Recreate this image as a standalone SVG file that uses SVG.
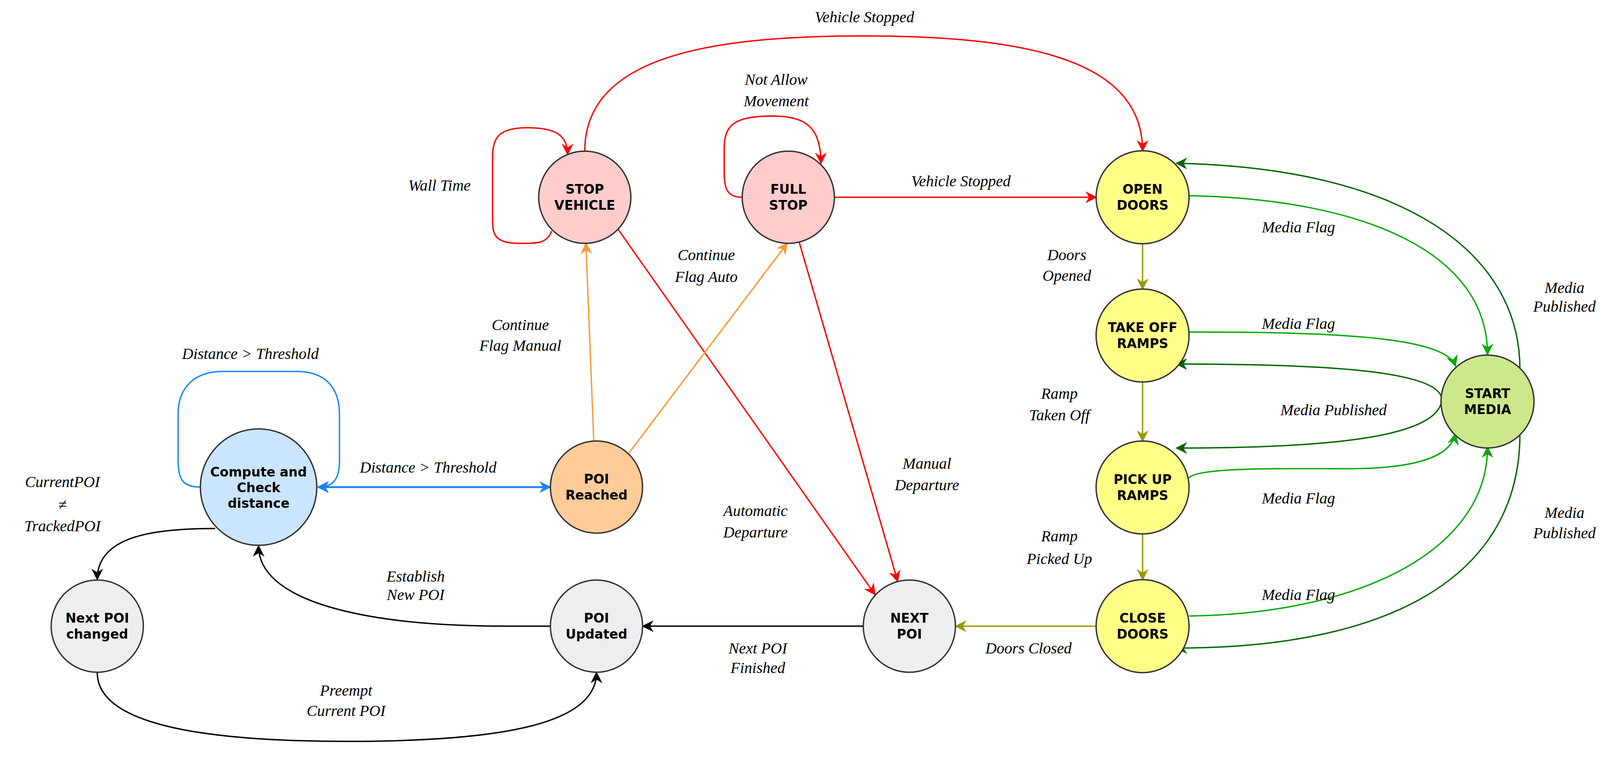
<svg xmlns="http://www.w3.org/2000/svg" width="4120" height="1938" viewBox="0 0 4120 1938">
<style>
.n{stroke:#333;stroke-width:3.5}
.t{font-family:"DejaVu Sans",Verdana,sans-serif;font-weight:bold;font-size:33px;text-anchor:middle;fill:#000}
.l{font-family:"Liberation Serif","Times New Roman",serif;font-style:italic;font-size:40px;text-anchor:middle;fill:#000}
.e{fill:none;stroke-width:3.5}
.r{stroke:#ff0000}.o{stroke:#ff9933}.b{stroke:#1a85ff;stroke-width:5}.k{stroke:#000}.y{stroke:#999900}.g{stroke:#00aa00}.d{stroke:#006600}
</style>
<defs>
<marker id="mr" viewBox="0 0 10 10" refX="9" refY="5" markerWidth="30" markerHeight="30" markerUnits="userSpaceOnUse" orient="auto-start-reverse"><path d="M0,0 L10,5 L0,10 L3,5 Z" fill="#ff0000"/></marker>
<marker id="mo" viewBox="0 0 10 10" refX="9" refY="5" markerWidth="30" markerHeight="30" markerUnits="userSpaceOnUse" orient="auto-start-reverse"><path d="M0,0 L10,5 L0,10 L3,5 Z" fill="#ff9933"/></marker>
<marker id="mb" viewBox="0 0 10 10" refX="9" refY="5" markerWidth="30" markerHeight="30" markerUnits="userSpaceOnUse" orient="auto-start-reverse"><path d="M0,0 L10,5 L0,10 L3,5 Z" fill="#1a85ff"/></marker>
<marker id="mk" viewBox="0 0 10 10" refX="9" refY="5" markerWidth="30" markerHeight="30" markerUnits="userSpaceOnUse" orient="auto-start-reverse"><path d="M0,0 L10,5 L0,10 L3,5 Z" fill="#000"/></marker>
<marker id="my" viewBox="0 0 10 10" refX="9" refY="5" markerWidth="30" markerHeight="30" markerUnits="userSpaceOnUse" orient="auto-start-reverse"><path d="M0,0 L10,5 L0,10 L3,5 Z" fill="#999900"/></marker>
<marker id="mg" viewBox="0 0 10 10" refX="9" refY="5" markerWidth="30" markerHeight="30" markerUnits="userSpaceOnUse" orient="auto-start-reverse"><path d="M0,0 L10,5 L0,10 L3,5 Z" fill="#00aa00"/></marker>
<marker id="md" viewBox="0 0 10 10" refX="9" refY="5" markerWidth="30" markerHeight="30" markerUnits="userSpaceOnUse" orient="auto-start-reverse"><path d="M0,0 L10,5 L0,10 L3,5 Z" fill="#006600"/></marker>
</defs>
<rect width="4120" height="1938" fill="#fff"/>
<g id="connectors">
<path class="e r" marker-end="url(#mr)" d="M1412,592 C1400,625 1370,623 1330,623 C1265,623 1261,600 1261,560 L1261,400 C1261,350 1280,327 1350,327 C1420,327 1453,345 1453,395"/>
<path class="e r" marker-end="url(#mr)" d="M1899,505 C1860,505 1854,480 1854,440 L1854,380 C1854,320 1880,297 1975,297 C2070,297 2100,330 2102,418"/>
<path class="e r" marker-end="url(#mr)" d="M1497,387 C1497,150 1800,92 2210,92 C2620,92 2925,150 2925,386"/>
<path class="e r" marker-end="url(#mr)" d="M2136,505 L2806,505"/>
<path class="e r" marker-end="url(#mr)" d="M1583,588 L2240,1522"/>
<path class="e r" marker-end="url(#mr)" d="M2046,620 L2298,1488"/>
<path class="e o" marker-end="url(#mo)" d="M1520,1129 L1500,623"/>
<path class="e o" marker-end="url(#mo)" d="M1610,1160 L2015,623"/>
<path class="e b" marker-start="url(#mb)" marker-end="url(#mb)" d="M814,1247 L1408,1247"/>
<path class="e b" style="stroke-width:3.5" marker-end="url(#mb)" d="M514,1247 C470,1247 456,1230 456,1180 L456,1060 C456,990 500,951 570,951 L760,951 C830,951 869,990 869,1060 L869,1180 C869,1230 850,1247 815,1247"/>
<path class="e k" marker-end="url(#mk)" d="M551,1353 C400,1353 249,1370 249,1483"/>
<path class="e k" marker-end="url(#mk)" d="M1409,1603 L1300,1603 C900,1603 662,1530 662,1398"/>
<path class="e k" marker-end="url(#mk)" d="M249,1722 C249,1850 500,1898 888,1898 C1300,1898 1527,1850 1527,1722"/>
<path class="e k" marker-end="url(#mk)" d="M2210,1603 L1646,1603"/>
<path class="e y" marker-end="url(#my)" d="M2806,1603 L2447,1603"/>
<path class="e y" marker-end="url(#my)" d="M2925,620 L2925,740"/>
<path class="e y" marker-end="url(#my)" d="M2925,978 L2925,1129"/>
<path class="e y" marker-end="url(#my)" d="M2925,1367 L2925,1484"/>
<path class="e g" marker-end="url(#mg)" d="M3044,501 C3500,510 3808,650 3808,907"/>
<path class="e d" marker-end="url(#md)" d="M3891,945 C3891,650 3600,430 3012,418"/>
<path class="e g" marker-end="url(#mg)" d="M3044,850 C3400,850 3700,860 3726,937"/>
<path class="e d" marker-end="url(#md)" d="M3690,1016 C3670,950 3400,932 3012,932"/>
<path class="e d" marker-end="url(#md)" d="M3690,1030 C3670,1120 3400,1147 3012,1147"/>
<path class="e g" marker-end="url(#mg)" d="M3044,1224 C3060,1195 3300,1200 3450,1200 C3650,1200 3715,1160 3726,1111"/>
<path class="e g" marker-end="url(#mg)" d="M3044,1577 C3500,1570 3808,1400 3808,1145"/>
<path class="e d" marker-end="url(#md)" d="M3891,1111 C3891,1450 3600,1659 3012,1659"/>
</g>
<g id="labels">
<text class="l" x="2213" y="57">Vehicle Stopped</text>
<text class="l" x="1987" y="217">Not Allow</text><text class="l" x="1987" y="272">Movement</text>
<text class="l" x="1125" y="488">Wall Time</text>
<text class="l" x="2460" y="477">Vehicle Stopped</text>
<text class="l" x="1808" y="666">Continue</text><text class="l" x="1808" y="722">Flag Auto</text>
<text class="l" x="1332" y="845">Continue</text><text class="l" x="1332" y="898">Flag Manual</text>
<text class="l" x="641" y="919">Distance &gt; Threshold</text>
<text class="l" x="1096" y="1210">Distance &gt; Threshold</text>
<text class="l" x="160" y="1247">CurrentPOI</text><text class="l" x="160" y="1305">≠</text><text class="l" x="160" y="1360">TrackedPOI</text>
<text class="l" x="1934" y="1321">Automatic</text><text class="l" x="1934" y="1376">Departure</text>
<text class="l" x="2373" y="1200">Manual</text><text class="l" x="2373" y="1255">Departure</text>
<text class="l" x="1064" y="1489">Establish</text><text class="l" x="1064" y="1536">New POI</text>
<text class="l" x="886" y="1781">Preempt</text><text class="l" x="886" y="1833">Current POI</text>
<text class="l" x="1940" y="1673">Next POI</text><text class="l" x="1940" y="1723">Finished</text>
<text class="l" x="2633" y="1673">Doors Closed</text>
<text class="l" x="2731" y="666">Doors</text><text class="l" x="2731" y="719">Opened</text>
<text class="l" x="2712" y="1021">Ramp</text><text class="l" x="2712" y="1076">Taken Off</text>
<text class="l" x="2712" y="1386">Ramp</text><text class="l" x="2712" y="1444">Picked Up</text>
<text class="l" x="3324" y="595">Media Flag</text>
<text class="l" x="3324" y="842">Media Flag</text>
<text class="l" x="3414" y="1063">Media Published</text>
<text class="l" x="3324" y="1289">Media Flag</text>
<text class="l" x="3324" y="1536">Media Flag</text>
<text class="l" x="4005" y="750">Media</text><text class="l" x="4005" y="798">Published</text>
<text class="l" x="4005" y="1326">Media</text><text class="l" x="4005" y="1378">Published</text>
</g>
<g id="stop-vehicle"><circle class="n" cx="1497" cy="505" r="118" fill="#ffcccc"/><text class="t" x="1497" y="496">STOP</text><text class="t" x="1497" y="537">VEHICLE</text></g>
<g id="full-stop"><circle class="n" cx="2018" cy="505" r="118" fill="#ffcccc"/><text class="t" x="2018" y="496">FULL</text><text class="t" x="2018" y="537">STOP</text></g>
<g id="open-doors"><circle class="n" cx="2925" cy="505" r="119" fill="#ffff88"/><text class="t" x="2925" y="496">OPEN</text><text class="t" x="2925" y="537">DOORS</text></g>
<g id="take-off-ramps"><circle class="n" cx="2925" cy="859" r="119" fill="#ffff88"/><text class="t" x="2925" y="850">TAKE OFF</text><text class="t" x="2925" y="891">RAMPS</text></g>
<g id="pick-up-ramps"><circle class="n" cx="2925" cy="1248" r="119" fill="#ffff88"/><text class="t" x="2925" y="1239">PICK UP</text><text class="t" x="2925" y="1280">RAMPS</text></g>
<g id="close-doors"><circle class="n" cx="2925" cy="1603" r="119" fill="#ffff88"/><text class="t" x="2925" y="1594">CLOSE</text><text class="t" x="2925" y="1635">DOORS</text></g>
<g id="start-media"><circle class="n" cx="3808" cy="1028" r="119" fill="#cde88b"/><text class="t" x="3808" y="1019">START</text><text class="t" x="3808" y="1060">MEDIA</text></g>
<g id="compute"><circle class="n" cx="662" cy="1247" r="149" fill="#cce5ff"/><text class="t" x="662" y="1220">Compute and</text><text class="t" x="662" y="1260">Check</text><text class="t" x="662" y="1300">distance</text></g>
<g id="poi-reached"><circle class="n" cx="1527" cy="1247" r="118" fill="#ffcc99"/><text class="t" x="1527" y="1238">POI</text><text class="t" x="1527" y="1279">Reached</text></g>
<g id="next-poi-changed"><circle class="n" cx="249" cy="1603" r="118" fill="#eeeeee"/><text class="t" x="249" y="1594">Next POI</text><text class="t" x="249" y="1635">changed</text></g>
<g id="poi-updated"><circle class="n" cx="1527" cy="1603" r="118" fill="#eeeeee"/><text class="t" x="1527" y="1594">POI</text><text class="t" x="1527" y="1635">Updated</text></g>
<g id="next-poi"><circle class="n" cx="2328" cy="1603" r="118" fill="#eeeeee"/><text class="t" x="2328" y="1594">NEXT</text><text class="t" x="2328" y="1635">POI</text></g>
</svg>
